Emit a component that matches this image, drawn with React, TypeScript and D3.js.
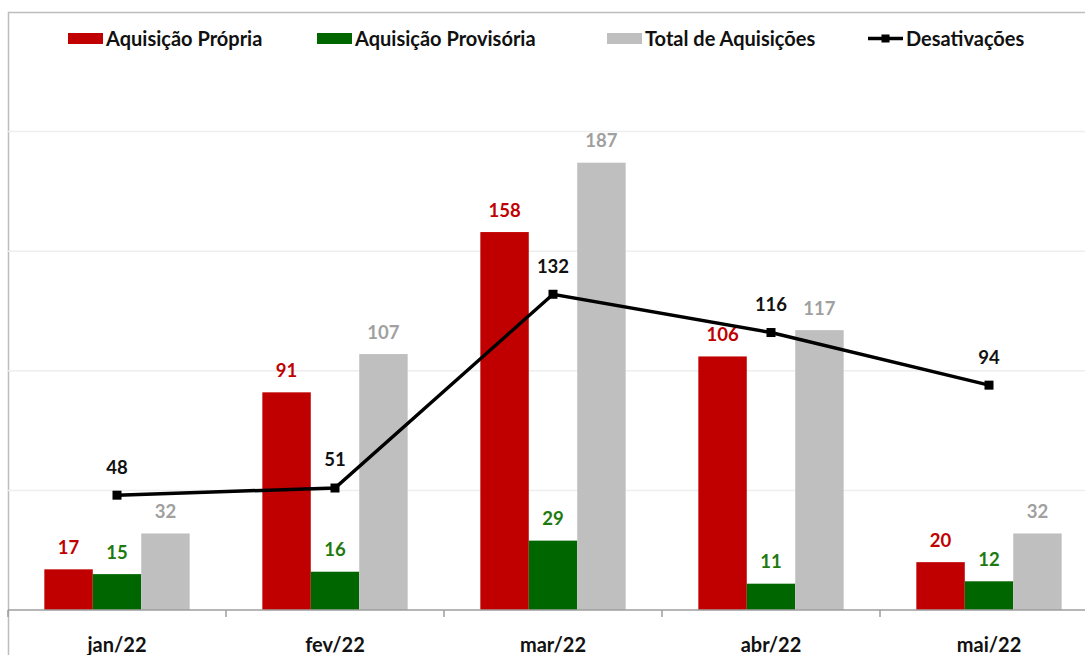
import React from "react"
import { scaleBand, scaleLinear, line } from "d3"

const width = 1085
const height = 655

const months = ["jan/22", "fev/22", "mar/22", "abr/22", "mai/22"]
const propria = [17, 91, 158, 106, 20]
const provisoria = [15, 16, 29, 11, 12]
const total = [32, 107, 187, 117, 32]
const desativacoes = [48, 51, 132, 116, 94]
const gridTicks = [50, 100, 150, 200]

const barSeries = [
  { name: "Aquisição Própria", values: propria, color: "#C00000", text: "#C00000" },
  { name: "Aquisição Provisória", values: provisoria, color: "#006600", text: "#1E7A10" },
  { name: "Total de Aquisições", values: total, color: "#BFBFBF", text: "#A0A0A0" },
]

const font = "Lato, 'Open Sans', sans-serif"

const plotLeft = 8
const plotRight = 1098
const plotTop = 12
const plotBottom = 610

const x = scaleBand<string>().domain(months).range([plotLeft, plotRight])
const y = scaleLinear().domain([0, 250]).range([plotBottom, plotTop])
const sub = scaleBand<string>()
  .domain(barSeries.map(s => s.name))
  .range([x.bandwidth() / 6, (x.bandwidth() * 5) / 6])

const center = (m: string) => (x(m) ?? 0) + x.bandwidth() / 2

const linePath = line<number>()
  .x((_, i) => center(months[i]))
  .y(d => y(d))

const legendItems = [
  { label: "Aquisição Própria", color: "#C00000", sx: 68, tx: 106, kind: "bar" },
  { label: "Aquisição Provisória", color: "#006600", sx: 317, tx: 355, kind: "bar" },
  { label: "Total de Aquisições", color: "#BFBFBF", sx: 607, tx: 645, kind: "bar" },
  { label: "Desativações", color: "#000", sx: 868, tx: 906, kind: "line" },
]

const App = () => (
  <svg
    width={width}
    height={height}
    style={{ position: "absolute", left: 0, top: 0, background: "#fff" }}
  >
    {/* chart border */}
    <rect x={8.5} y={12.5} width={width + 10} height={height} fill="none" stroke="#BDBDBD" strokeWidth={1.5} />

    {/* gridlines */}
    {gridTicks.map(t => (
      <line key={t} x1={plotLeft} x2={plotRight} y1={y(t)} y2={y(t)} stroke="#EEEEEE" strokeWidth={1.5} />
    ))}

    {/* legend */}
    {legendItems.map(d => (
      <g key={d.label}>
        {d.kind === "bar" ? (
          <rect x={d.sx} y={33} width={35} height={11} fill={d.color} />
        ) : (
          <g>
            <line x1={d.sx} x2={d.sx + 35} y1={38.5} y2={38.5} stroke="#000" strokeWidth={3.5} />
            <rect x={d.sx + 13.5} y={34.5} width={8} height={8} fill="#000" />
          </g>
        )}
        <text x={d.tx} y={38.5} dy="0.35em" fontFamily={font} fontWeight="bold" fontSize={20} fill="#111">
          {d.label}
        </text>
      </g>
    ))}

    {/* bars */}
    {barSeries.map(s => (
      <g key={s.name}>
        {s.values.map((v, i) => {
          const bx = (x(months[i]) ?? 0) + (sub(s.name) ?? 0)
          return (
            <g key={i}>
              <rect x={bx} y={y(v)} width={sub.bandwidth()} height={plotBottom - y(v)} fill={s.color} />
              <text
                x={bx + sub.bandwidth() / 2}
                y={y(v) - 22}
                dy="0.35em"
                textAnchor="middle"
                fontFamily={font}
                fontWeight="bold"
                fontSize={18.5}
                fill={s.text}
              >
                {v}
              </text>
            </g>
          )
        })}
      </g>
    ))}

    {/* axis */}
    <line x1={plotLeft} x2={plotRight} y1={plotBottom} y2={plotBottom} stroke="#9E9E9E" strokeWidth={1.5} />
    {months.map(m => (
      <line key={m} x1={x(m)} x2={x(m)} y1={plotBottom} y2={plotBottom + 7} stroke="#9E9E9E" strokeWidth={1.5} />
    ))}
    {months.map(m => (
      <text
        key={m}
        x={center(m)}
        y={645}
        dy="0.35em"
        textAnchor="middle"
        fontFamily={font}
        fontWeight="bold"
        fontSize={20}
        fill="#111"
      >
        {m}
      </text>
    ))}

    {/* line series */}
    <path d={linePath(desativacoes) ?? ""} fill="none" stroke="#000" strokeWidth={3.5} />
    {desativacoes.map((v, i) => (
      <g key={i}>
        <rect x={center(months[i]) - 4.5} y={y(v) - 4.5} width={9} height={9} fill="#000" />
        <text
          x={center(months[i])}
          y={y(v) - 28}
          dy="0.35em"
          textAnchor="middle"
          fontFamily={font}
          fontWeight="bold"
          fontSize={18.5}
          fill="#111"
        >
          {v}
        </text>
      </g>
    ))}
  </svg>
)

export default App
